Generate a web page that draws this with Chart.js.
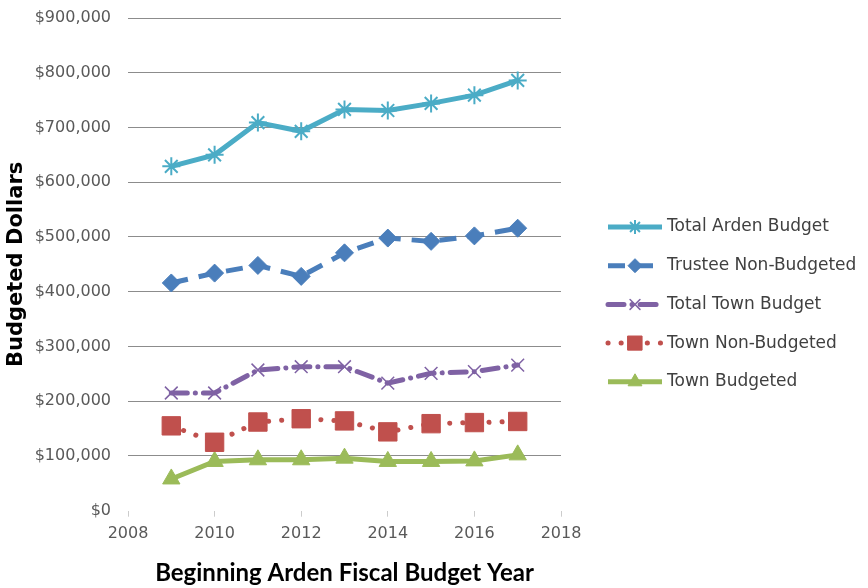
<!DOCTYPE html>
<html>
<head>
<meta charset="utf-8">
<script src="https://cdn.jsdelivr.net/npm/chart.js@4.4.1/dist/chart.umd.min.js"></script>
<style>
  html, body { margin: 0; padding: 0; background: #fff; }
  .chartBox { width: 868px; height: 588px; }
</style>
</head>
<body>
<div class="chartBox"><canvas id="budgetChart" width="868" height="588"></canvas></div>
<script>
// years on the x axis
const years = [2009, 2010, 2011, 2012, 2013, 2014, 2015, 2016, 2017];

// budget series, dollars
const totalArden = [629000, 650000, 709000, 693000, 733000, 731000, 744000, 759000, 786000];
const trusteeNonBudgeted = [416000, 434000, 448000, 428000, 471000, 498000, 492000, 502000, 516000];
const totalTown = [215000, 215000, 257000, 263000, 263000, 233000, 251000, 254000, 266000];
const townNonBudgeted = [155000, 125000, 162000, 168000, 164000, 144000, 159000, 161000, 163000];
const townBudgeted = [58000, 90000, 93000, 93000, 96000, 90000, 90000, 91000, 102000];

const seriesNames = ['Total Arden Budget', 'Trustee Non-Budgeted', 'Total Town Budget', 'Town Non-Budgeted', 'Town Budgeted'];

// axis ranges
const xMin = 2008, xMax = 2018, xStep = 2;
const yMin = 0, yMax = 900000, yStep = 100000;

const toPoints = values => values.map((v, i) => ({ x: years[i], y: v }));

// legend drawn next to the plot, using each dataset's own styling
const sideLegend = {
  id: 'sideLegend',
  afterDraw(chart) {
    const ctx = chart.ctx;
    const drawPoint = Chart.helpers && Chart.helpers.drawPoint;
    chart.data.datasets.forEach((ds, i) => {
      const y = 227 + i * 38.7;
      ctx.save();
      ctx.strokeStyle = ds.borderColor;
      ctx.lineWidth = ds.borderWidth;
      ctx.lineCap = ds.borderCapStyle || 'butt';
      ctx.setLineDash(ds.borderDash || []);
      ctx.beginPath();
      ctx.moveTo(608, y);
      ctx.lineTo(662, y);
      ctx.stroke();
      ctx.setLineDash([]);
      if (drawPoint) {
        ctx.fillStyle = ds.pointBackgroundColor;
        ctx.strokeStyle = ds.pointBorderColor;
        ctx.lineWidth = ds.pointBorderWidth;
        drawPoint(ctx, {
          pointStyle: ds.pointStyle,
          radius: ds.legendRadius,
          borderWidth: ds.pointBorderWidth,
          rotation: 0
        }, 635, y);
      }
      ctx.fillStyle = '#404040';
      ctx.font = '17px "DejaVu Sans"';
      ctx.textBaseline = 'middle';
      ctx.textAlign = 'left';
      ctx.fillText(ds.label, 667, y);
      ctx.restore();
    });
  }
};

const ctx = document.getElementById('budgetChart');

new Chart(ctx, {
  type: 'line',
  data: {
    datasets: [
      {
        label: seriesNames[0],
        data: toPoints(totalArden),
        borderColor: '#4BACC6',
        borderWidth: 5,
        pointStyle: 'star',
        pointRadius: 9,
        legendRadius: 7,
        pointBorderWidth: 2,
        pointBorderColor: '#4BACC6',
        pointBackgroundColor: '#4BACC6'
      },
      {
        label: seriesNames[1],
        data: toPoints(trusteeNonBudgeted),
        borderColor: '#4A7EBB',
        borderWidth: 5,
        borderDash: [17, 11],
        pointStyle: 'rectRot',
        pointRadius: 9,
        legendRadius: 7,
        pointBorderWidth: 1,
        pointBorderColor: '#4A7EBB',
        pointBackgroundColor: '#4A7EBB'
      },
      {
        label: seriesNames[2],
        data: toPoints(totalTown),
        borderColor: '#7F62A4',
        borderWidth: 5,
        borderDash: [16, 8, 0.1, 8],
        borderCapStyle: 'round',
        pointStyle: 'crossRot',
        pointRadius: 9,
        legendRadius: 7,
        pointBorderWidth: 1.5,
        pointBorderColor: '#7F62A4',
        pointBackgroundColor: '#7F62A4'
      },
      {
        label: seriesNames[3],
        data: toPoints(townNonBudgeted),
        borderColor: '#C0504D',
        borderWidth: 5,
        borderDash: [0.1, 13],
        borderCapStyle: 'round',
        pointStyle: 'rect',
        pointRadius: 13,
        legendRadius: 10,
        pointBorderWidth: 1,
        pointBorderColor: '#C0504D',
        pointBackgroundColor: '#C0504D'
      },
      {
        label: seriesNames[4],
        data: toPoints(townBudgeted),
        borderColor: '#9BBB59',
        borderWidth: 5,
        pointStyle: 'triangle',
        pointRadius: 10,
        legendRadius: 8,
        pointBorderWidth: 1,
        pointBorderColor: '#9BBB59',
        pointBackgroundColor: '#9BBB59'
      }
    ]
  },
  options: {
    responsive: false,
    animation: false,
    layout: { padding: { top: 18, right: 307, bottom: 0, left: 0 } },
    plugins: {
      legend: { display: false },
      tooltip: { enabled: false }
    },
    scales: {
      x: {
        type: 'linear',
        min: xMin,
        max: xMax,
        afterFit: scale => { scale.height = 77.3; },
        ticks: {
          stepSize: xStep,
          color: '#595959',
          font: { family: 'DejaVu Sans', size: 16 },
          padding: 8,
          callback: v => String(v)
        },
        grid: {
          drawOnChartArea: false,
          drawTicks: true,
          tickLength: 6,
          color: '#cccccc'
        },
        border: { display: false },
        title: {
          display: true,
          text: 'Beginning Arden Fiscal Budget Year',
          color: '#000',
          font: { family: 'Lato', size: 24, weight: 'bold' },
          padding: { top: 0, bottom: 0 }
        }
      },
      y: {
        min: yMin,
        max: yMax,
        afterFit: scale => { scale.width = 128; },
        ticks: {
          stepSize: yStep,
          color: '#595959',
          font: { family: 'DejaVu Sans', size: 16 },
          padding: 5,
          callback: v => '$' + v.toLocaleString('en-US')
        },
        grid: {
          drawTicks: true,
          tickLength: 12,
          tickColor: 'rgba(0,0,0,0)',
          color: c => (c.tick && c.tick.value === 0 ? 'rgba(0,0,0,0)' : '#8c8c8c'),
          lineWidth: 1
        },
        border: { display: false },
        title: {
          display: true,
          text: 'Budgeted Dollars',
          color: '#000',
          font: { family: 'DejaVu Sans', size: 21, weight: 'bold' },
          padding: { top: 4, bottom: 0 }
        }
      }
    }
  },
  plugins: [sideLegend]
});
</script>
</body>
</html>
